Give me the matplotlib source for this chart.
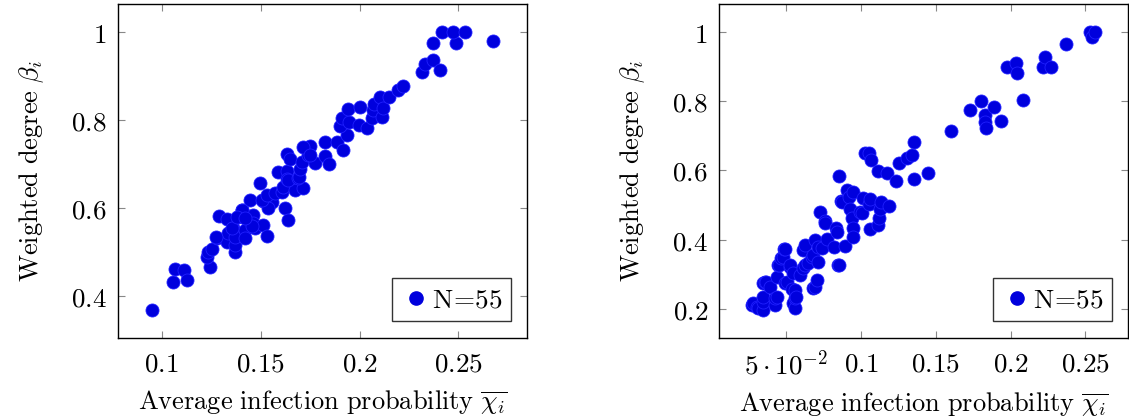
import matplotlib
matplotlib.use("Agg")
import matplotlib.pyplot as plt
from matplotlib.ticker import FixedLocator, FixedFormatter
from matplotlib.lines import Line2D

plt.rcParams['mathtext.fontset'] = 'cm'
plt.rcParams['font.family'] = ['DejaVu Serif']

# ---- Left panel data ----
left_x = [0.0949, 0.1056, 0.1067, 0.1113, 0.1129, 0.1244, 0.1228, 0.1236, 0.1253, 0.1278,
          0.1291, 0.1329, 0.1329, 0.1337, 0.1362, 0.1371, 0.1371, 0.1371, 0.1387, 0.1408,
          0.1421, 0.1421, 0.1463, 0.1463, 0.1472, 0.1511, 0.1531, 0.1354, 0.1455, 0.1275,
          0.1446, 0.1514, 0.1556, 0.1539, 0.1623, 0.1640, 0.1404, 0.1379, 0.1421, 0.1506,
          0.1531, 0.1573, 0.1607, 0.1497, 0.1612, 0.1674, 0.1716, 0.1586, 0.1635, 0.1635,
          0.1640, 0.1691, 0.1696, 0.1699, 0.1632, 0.1649, 0.1708, 0.1741, 0.1750, 0.1775,
          0.1713, 0.1750, 0.1826, 0.1826, 0.1848, 0.1885, 0.1918, 0.1935, 0.1901, 0.1910,
          0.1948, 0.1940, 0.1999, 0.2003, 0.2040, 0.2062, 0.2070, 0.2073, 0.2104, 0.2112,
          0.2120, 0.2151, 0.2193, 0.2218, 0.2314, 0.2331, 0.2373, 0.2407, 0.2370, 0.2488,
          0.2416, 0.2471, 0.2533, 0.2677]
left_y = [0.367, 0.431, 0.460, 0.459, 0.436, 0.465, 0.487, 0.500, 0.506, 0.532,
          0.582, 0.574, 0.523, 0.542, 0.553, 0.500, 0.515, 0.534, 0.580, 0.595,
          0.550, 0.531, 0.584, 0.565, 0.553, 0.561, 0.536, 0.553, 0.559, 0.534,
          0.618, 0.616, 0.614, 0.599, 0.599, 0.572, 0.595, 0.580, 0.576, 0.618,
          0.629, 0.633, 0.637, 0.657, 0.648, 0.641, 0.645, 0.682, 0.683, 0.665,
          0.664, 0.667, 0.671, 0.688, 0.723, 0.711, 0.705, 0.720, 0.741, 0.702,
          0.739, 0.720, 0.751, 0.717, 0.700, 0.749, 0.732, 0.765, 0.787, 0.804,
          0.796, 0.825, 0.789, 0.829, 0.783, 0.804, 0.823, 0.837, 0.853, 0.808,
          0.827, 0.853, 0.869, 0.878, 0.909, 0.927, 0.937, 0.913, 0.975, 0.975,
          1.000, 1.000, 1.000, 0.981]

# ---- Right panel data ----
right_x = [0.0269, 0.0279, 0.0302, 0.0313, 0.0346, 0.0346, 0.0346, 0.0342, 0.0358, 0.0364,
           0.0391, 0.0424, 0.0424, 0.0436, 0.0436, 0.0447, 0.0453, 0.0465, 0.0476, 0.0487,
           0.0491, 0.0491, 0.0503, 0.0525, 0.0525, 0.0536, 0.0547, 0.0547, 0.0558, 0.0558,
           0.0558, 0.0565, 0.0592, 0.0614, 0.0614, 0.0625, 0.0625, 0.0647, 0.0670, 0.0681,
           0.0681, 0.0692, 0.0692, 0.0703, 0.0714, 0.0714, 0.0725, 0.0737, 0.0759, 0.0759,
           0.0770, 0.0819, 0.0832, 0.0837, 0.0848, 0.0855, 0.0855, 0.0866, 0.0871, 0.0893,
           0.0904, 0.0921, 0.0926, 0.0937, 0.0944, 0.0944, 0.0948, 0.0993, 0.1004, 0.1011,
           0.1026, 0.1053, 0.1055, 0.1060, 0.1060, 0.1065, 0.1115, 0.1115, 0.1120, 0.1127,
           0.1131, 0.1176, 0.1187, 0.1232, 0.1256, 0.1305, 0.1339, 0.1354, 0.1356, 0.1448,
           0.1600, 0.1729, 0.1802, 0.1829, 0.1829, 0.1836, 0.1889, 0.1934, 0.1974, 0.2034,
           0.2045, 0.2085, 0.2219, 0.2230, 0.2269, 0.2369, 0.2531, 0.2543, 0.2565]
right_y = [0.211, 0.216, 0.206, 0.201, 0.196, 0.220, 0.235, 0.275, 0.278, 0.278,
           0.262, 0.211, 0.230, 0.235, 0.293, 0.327, 0.327, 0.346, 0.349, 0.372,
           0.273, 0.372, 0.278, 0.322, 0.327, 0.256, 0.302, 0.217, 0.201, 0.230,
           0.254, 0.235, 0.298, 0.317, 0.370, 0.327, 0.384, 0.331, 0.351, 0.355,
           0.259, 0.264, 0.399, 0.283, 0.336, 0.379, 0.479, 0.375, 0.455, 0.449,
           0.401, 0.379, 0.433, 0.423, 0.327, 0.325, 0.585, 0.512, 0.510, 0.381,
           0.544, 0.524, 0.489, 0.462, 0.433, 0.539, 0.408, 0.479, 0.478, 0.521,
           0.650, 0.503, 0.652, 0.517, 0.430, 0.630, 0.599, 0.442, 0.462, 0.489,
           0.510, 0.592, 0.498, 0.570, 0.623, 0.635, 0.645, 0.575, 0.683, 0.592,
           0.714, 0.775, 0.801, 0.761, 0.741, 0.722, 0.783, 0.743, 0.900, 0.910,
           0.881, 0.804, 0.900, 0.929, 0.899, 0.965, 1.000, 0.986, 1.000]

left_xticks = [0.1, 0.15, 0.2, 0.25]
left_xlabels = ["$0.1$", "$0.15$", "$0.2$", "$0.25$"]
left_yticks = [0.4, 0.6, 0.8, 1.0]
left_ylabels = ["$0.4$", "$0.6$", "$0.8$", "$1$"]
right_xticks = [0.05, 0.1, 0.15, 0.2, 0.25]
right_xlabels = [r"$5\cdot10^{-2}$", "$0.1$", "$0.15$", "$0.2$", "$0.25$"]
right_yticks = [0.2, 0.4, 0.6, 0.8, 1.0]
right_ylabels = ["$0.2$", "$0.4$", "$0.6$", "$0.8$", "$1$"]
legend_label = r"$\mathrm{N}\!=\!55$"

W, H = 1129, 419
fig = plt.figure(figsize=(W / 100, H / 100), dpi=100)
ax1 = fig.add_axes([117.7 / W, 1 - 337.7 / H, 409.6 / W, 333.4 / H])
ax2 = fig.add_axes([719.0 / W, 1 - 337.7 / H, 409.3 / W, 333.4 / H])

blue = '#0000dd'
tick_fs = 19.5
label_fs = 19

def style(ax, xs, ys, xt, xl, yt, yl, xlim, ylim):
    ax.scatter(xs, ys, s=88, color=blue, edgecolors='#2020ff', linewidths=0.6, zorder=3)
    ax.set_xlim(*xlim)
    ax.set_ylim(*ylim)
    ax.xaxis.set_major_locator(FixedLocator(xt))
    ax.xaxis.set_major_formatter(FixedFormatter(xl))
    ax.yaxis.set_major_locator(FixedLocator(yt))
    ax.yaxis.set_major_formatter(FixedFormatter(yl))
    ax.tick_params(direction='in', length=5, width=0.8, color='#888888',
                   top=True, right=True, labelsize=tick_fs)
    ax.tick_params(axis='x', pad=9)
    ax.tick_params(axis='y', pad=8)
    for sp in ax.spines.values():
        sp.set_linewidth(1.0)
    ax.set_xlabel(r"$\mathrm{Average\ infection\ probability}\ \overline{\chi_i}$",
                  fontsize=label_fs, labelpad=8)
    ax.set_ylabel(r"$\mathrm{Weighted\ degree}\ \beta_i$", fontsize=label_fs, labelpad=18)
    h = Line2D([], [], marker='o', linestyle='none', color=blue, markersize=9.5)
    leg = ax.legend([h], [legend_label], loc='lower right', fontsize=label_fs + 0.5,
                    frameon=True, fancybox=False, edgecolor='black', handletextpad=0.0,
                    borderaxespad=0.6, handlelength=1.2, borderpad=0.3)
    leg.get_frame().set_linewidth(1.0)

style(ax1, left_x, left_y, left_xticks, left_xlabels, left_yticks, left_ylabels,
      (0.0778, 0.2848), (0.304, 1.0638))
style(ax2, right_x, right_y, right_xticks, right_xlabels, right_yticks, right_ylabels,
      (0.005, 0.2788), (0.116, 1.081))

fig.savefig("out.png", dpi=100)
